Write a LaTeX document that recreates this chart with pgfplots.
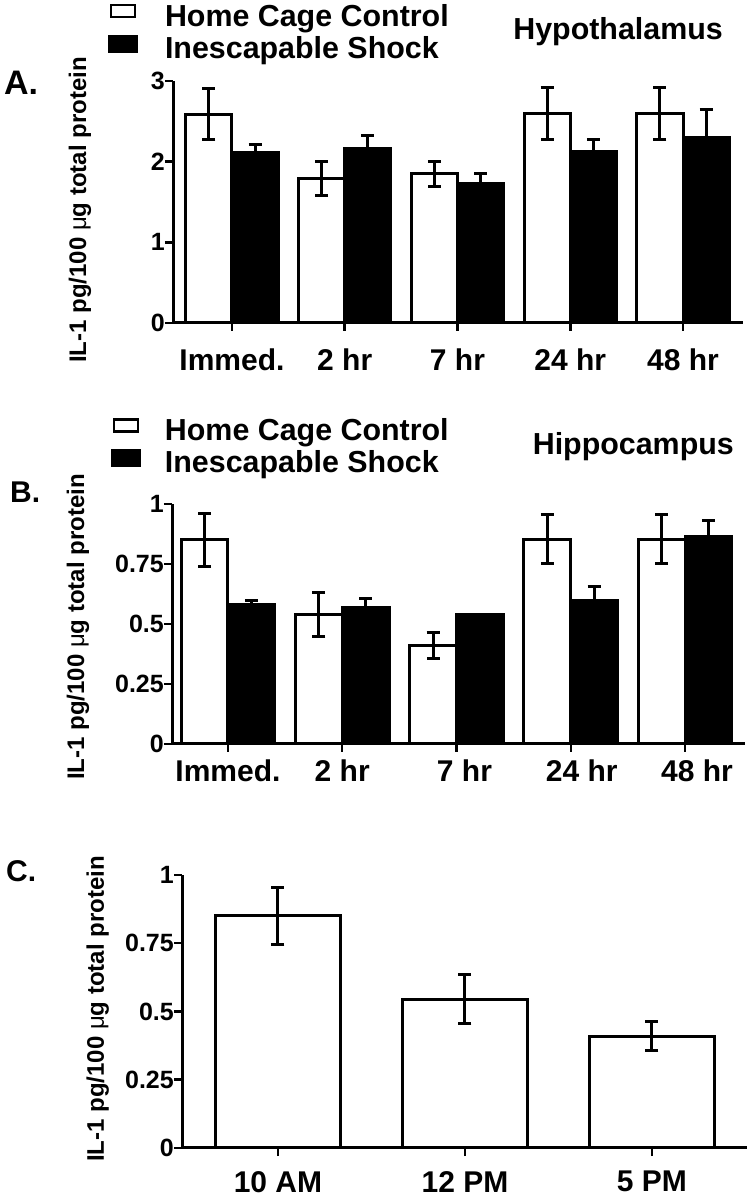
\documentclass[border=0pt]{standalone}
\usepackage{fontspec}
\setmainfont{Liberation Sans}
\usepackage{pgfplots}
\pgfplotsset{compat=1.18}

\pgfplotsset{
  panel/.style={
    scale only axis,
    axis lines=left,
    axis line style={-, line width=3pt},
    x axis line style={-, line width=3pt},
    y axis line style={-, line width=3pt},
    tick align=outside,
    major tick length=8pt,
    every tick/.style={black, line width=2.5pt},
    ymin=0,
    clip=false,
    /pgf/number format/assume math mode=true,
    yticklabel style={font=\bfseries\fontsize{25}{25}\selectfont, inner sep=0pt},
    xticklabel style={font=\bfseries\fontsize{30}{30}\selectfont, inner sep=0pt},
    ylabel style={font=\bfseries\fontsize{24}{24}\selectfont, anchor=center},
    legend style={draw=none, fill=none, inner sep=0pt, outer sep=0pt,
      font=\bfseries\fontsize{30.4}{31}\selectfont,
      nodes={inner sep=0pt, text height=22pt, text depth=7pt},
      row sep=2pt,
      /tikz/every odd column/.append style={column sep=27pt},
      anchor=north west},
    legend cell align=left,
  },
  whitebar/.style={ybar, bar shift=0pt, mark=none, draw=black, fill=white, line width=3pt,
    error bars/y dir=both, error bars/y explicit,
    error bars/error bar style={line width=3pt, black},
    error bars/error mark options={rotate=90, mark size=6.5pt, line width=3pt, black}},
  blackbar/.style={ybar, bar shift=0pt, mark=none, draw=black, fill=black, line width=3pt,
    error bars/y dir=plus, error bars/y explicit,
    error bars/error bar style={line width=3pt, black},
    error bars/error mark options={rotate=90, mark size=6.5pt, line width=3pt, black}},
  wlegend/.style={legend image code/.code={\draw[line width=2.5pt, fill=white] (1.5pt,1.5pt) rectangle (25.5pt,13.5pt);}},
  blegend/.style={legend image code/.code={\fill[black] (0pt,-0.5pt) rectangle (27pt,14.5pt);}},
}

\begin{document}
\begin{tikzpicture}
\useasboundingbox (0pt,0pt) rectangle (752pt,1199pt);

% ---------------- Panel A ----------------
\begin{axis}[panel,
  at={(173pt,876pt)}, anchor=south west,
  width=570pt, height=242pt,
  xmin=-0.523, xmax=4.532, ymax=3,
  xtick={0,1,2,3,4},
  xticklabels={Immed., 2 hr, 7 hr, 24 hr, 48 hr},
  xticklabel shift=18pt,
  ytick={0,1,2,3},
  ylabel={IL-1 pg/100 {\mdseries μ}g total protein},
  ylabel style={at={(axis description cs:-0.163,0.467)}},
  legend style={at={(axis description cs:-0.114,1.319)}},
]
\addplot[whitebar, wlegend, bar width=0.41] coordinates {
  (-0.205,2.59) +- (0,0.32)
  (0.795,1.79) +- (0,0.21)
  (1.795,1.85) +- (0,0.155)
  (2.795,2.60) +- (0,0.32)
  (3.795,2.60) +- (0,0.32)
};
\addlegendentry{Home Cage Control}
\addplot[blackbar, blegend, bar width=0.41] coordinates {
  (0.205,2.11) +- (0,0.10)
  (1.205,2.16) +- (0,0.16)
  (2.205,1.73) +- (0,0.12)
  (3.205,2.12) +- (0,0.16)
  (4.205,2.30) +- (0,0.35)
};
\addlegendentry{Inescapable Shock}
\end{axis}

% ---------------- Panel B ----------------
\begin{axis}[panel,
  at={(172pt,455pt)}, anchor=south west,
  width=573pt, height=240pt,
  xmin=-0.49, xmax=4.525, ymax=1,
  xtick={0,1,2,3,4},
  xticklabels={Immed., 2 hr, \hspace*{16pt}7 hr, \hspace*{22pt}24 hr, \hspace*{24pt}48 hr},
  xticklabel shift=8pt,
  ytick={0,0.25,0.5,0.75,1},
  yticklabels={0,0.25,0.5,0.75,1},
  ylabel={IL-1 pg/100 {\mdseries μ}g total protein},
  ylabel style={at={(axis description cs:-0.164,0.4875)}},
  legend style={at={(axis description cs:-0.1065,1.358)},
    /tikz/every odd column/.append style={column sep=24pt}},
]
\addplot[whitebar, wlegend, bar width=0.41] coordinates {
  (-0.205,0.85) +- (0,0.11)
  (0.795,0.538) +- (0,0.092)
  (1.795,0.41) +- (0,0.053)
  (2.795,0.854) +- (0,0.102)
  (3.795,0.854) +- (0,0.102)
};
\addlegendentry{Home Cage Control}
\addplot[blackbar, blegend, bar width=0.41] coordinates {
  (0.205,0.58) +- (0,0.017)
  (1.205,0.57) +- (0,0.035)
  (2.205,0.54) +- (0,0)
  (3.205,0.596) +- (0,0.062)
  (4.205,0.8625) +- (0,0.07)
};
\addlegendentry{Inescapable Shock}
\end{axis}

% ---------------- Panel C ----------------
\begin{axis}[panel,
  at={(182pt,51pt)}, anchor=south west,
  width=565pt, height=273pt,
  xmin=-0.513, xmax=2.508, ymax=1,
  xtick={0,1,2},
  xticklabels={10 AM, 12 PM, 5 PM},
  xticklabel shift=15pt,
  ytick={0,0.25,0.5,0.75,1},
  yticklabels={0,0.25,0.5,0.75,1},
  ylabel={IL-1 pg/100 {\mdseries μ}g total protein},
  ylabel style={at={(axis description cs:-0.149,0.509)}},
]
\addplot[whitebar, bar width=0.67] coordinates {
  (0,0.85) +- (0,0.105)
  (1,0.545) +- (0,0.09)
  (2,0.41) +- (0,0.052)
};
\end{axis}

% titles and panel letters
\node[anchor=base east, font=\bfseries\fontsize{30.4}{31}\selectfont, inner sep=0pt] at (723pt,1159pt) {Hypothalamus};
\node[anchor=base east, font=\bfseries\fontsize{30.4}{31}\selectfont, inner sep=0pt] at (734pt,744pt) {Hippocampus};
\node[anchor=base west, font=\bfseries\fontsize{34}{34}\selectfont, inner sep=0pt] at (4pt,1104pt) {A.};
\node[anchor=base west, font=\bfseries\fontsize{30}{30}\selectfont, inner sep=0pt] at (10pt,696pt) {B.};
\node[anchor=base west, font=\bfseries\fontsize{30}{30}\selectfont, inner sep=0pt] at (6pt,317pt) {C.};
\end{tikzpicture}
\end{document}
